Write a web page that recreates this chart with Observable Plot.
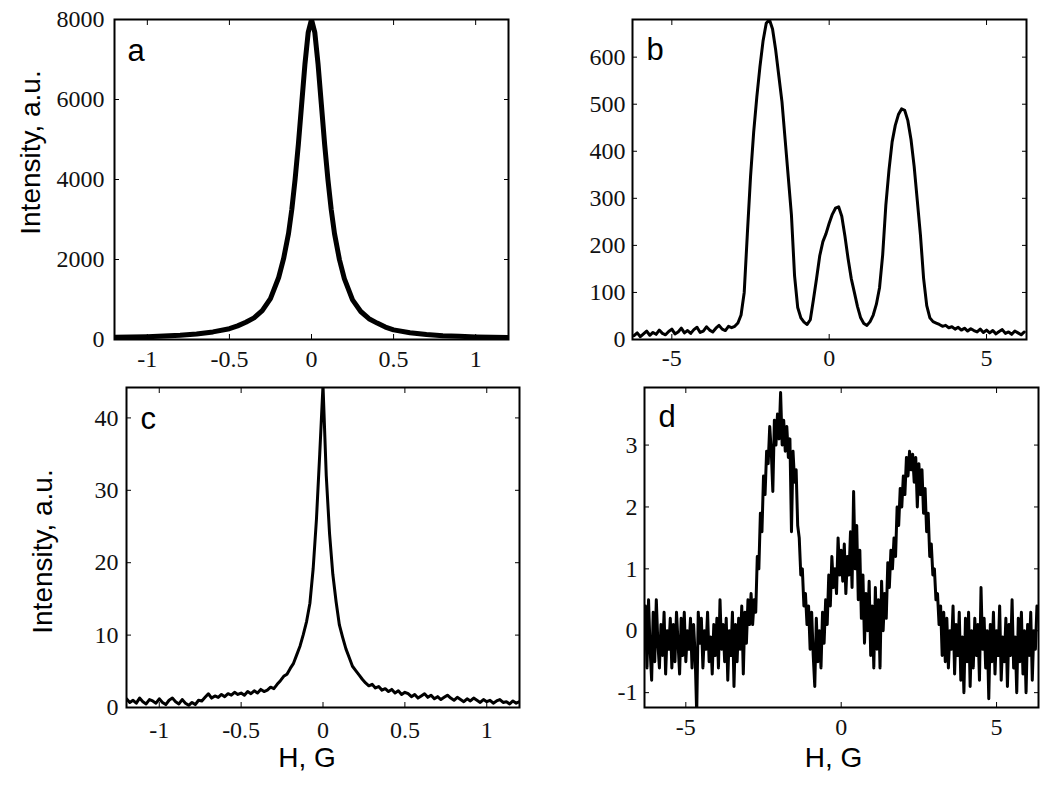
<!DOCTYPE html>
<html><head><meta charset="utf-8">
<script src="https://cdn.jsdelivr.net/npm/d3@7"></script>
<script src="https://cdn.jsdelivr.net/npm/@observablehq/plot@0.6"></script>
<style>
body{margin:0;background:#fff;}
#fig{position:relative;width:1050px;height:786px;background:#fff;overflow:hidden;}
#fig > svg{position:absolute;}
</style></head><body><div id="fig"></div>
<script>
// ---------- data ----------
// panel a: narrow line (smooth)
const xA = [-1.2,-1.1,-1.0,-0.9,-0.8,-0.7,-0.6,-0.5,-0.45,-0.4,-0.35,-0.3,-0.25,-0.2,-0.17,-0.14,-0.12,-0.1,-0.08,-0.06,-0.04,-0.02,0,0.02,0.04,0.06,0.08,0.1,0.12,0.14,0.17,0.2,0.25,0.3,0.35,0.4,0.45,0.5,0.6,0.7,0.8,0.9,1.0,1.1,1.2];
const yA = [55,60,70,85,105,140,190,270,340,430,540,720,1020,1550,2020,2650,3250,4000,4880,5880,6880,7680,8000,7680,6880,5880,4880,4000,3250,2650,2000,1520,990,700,520,410,310,240,170,125,95,80,65,55,50];

// panel b: triplet (sampling grid -6.2 .. 6.2, step 0.1)
const xBstart = -6.2, xBstep = 0.1;
const yB = [8,14,6,12,18,9,15,11,20,13,10,17,22,12,16,24,14,19,13,21,26,15,18,27,20,16,24,30,22,19,28,25,
  28,35,52,100,225,345,440,515,580,635,672,680,660,615,560,505,425,345,265,135,68,46,37,32,
  42,85,130,178,208,225,247,266,279,282,262,220,172,130,100,70,46,34,30,
  38,52,75,110,180,285,360,420,455,478,490,487,465,425,368,295,222,130,72,46,38,35,
  32,28,30,25,27,22,26,20,24,18,23,19,16,22,15,20,14,19,12,17,21,13,16,11,18,14,10,16];

// panel c: narrow line, noisy (sampling grid -1.2 .. 1.2, step 0.02)
const xCstart = -1.2, xCstep = 0.02;
const yC = [1.2,0.7,1.0,0.6,1.3,0.8,0.5,1.1,0.9,0.6,1.2,0.7,0.4,1.0,1.3,0.8,0.5,1.1,0.6,0.3,0.7,0.4,1.0,0.9,1.4,1.9,1.3,1.6,1.4,1.8,1.5,1.9,1.7,2.1,1.8,2.0,1.7,2.2,1.9,2.3,2.0,2.5,2.2,2.4,2.8,2.6,3.2,3.7,4.3,4.6,
  5.4,6.1,7.3,8.5,10.1,11.9,14.4,19.2,26,35,44.5,32,24,18.4,14.6,11.4,9.7,8.1,6.9,5.7,5.1,
  4.5,3.9,3.4,3.0,3.2,2.7,2.9,2.4,2.6,2.2,2.5,2.0,2.3,1.8,2.1,1.9,1.5,1.8,1.3,1.6,1.9,1.4,1.7,1.2,1.5,1.1,1.4,1.7,1.3,1.0,1.4,1.1,0.8,1.2,0.9,1.3,1.0,0.7,1.1,0.8,1.0,0.6,0.9,1.1,0.7,0.8,0.5,0.9,0.6,0.8];

// panel d: triplet, noisy (sampling grid -6.3 .. 6.3, step 0.05)
const xDstart = -6.3, xDstep = 0.05;
const yD = [0.4,-0.6,0.5,-0.3,-0.8,0.3,-0.5,0.5,-0.2,-0.6,0.1,-0.4,0.3,-0.7,0.0,-0.3,0.2,-0.6,0.1,-0.5,0.3,-0.2,-0.7,0.2,-0.4,0.3,-0.5,0.0,-0.3,0.2,-0.6,0.1,-0.4,-1.35,0.3,-0.2,0.2,-0.6,0.0,-0.3,0.3,-0.5,-0.1,-0.7,0.1,-0.4,0.2,-0.6,0.5,-0.3,0.1,-0.5,0.2,-0.8,0.0,-0.4,0.3,-0.9,0.1,-0.5,0.2,-0.3,0.4,-0.7,0.3,-0.2,0.5,0.1,
  0.6,0.1,0.5,0.3,1.2,1.0,1.9,1.6,2.5,2.2,2.9,2.7,3.3,2.9,2.25,3.4,3.0,3.5,3.1,3.85,3.0,3.4,2.9,3.3,2.8,3.1,1.6,2.9,2.4,2.6,1.7,1.5,0.9,1.0,0.4,0.6,0.1,0.4,-0.3,0.3,-0.4,-0.9,0.2,-0.5,
  0.0,-0.6,0.3,-0.2,0.5,0.1,0.9,0.4,1.2,0.7,1.0,0.6,1.5,0.9,1.3,0.8,1.4,0.6,1.2,0.9,1.6,0.7,2.25,1.0,1.7,0.5,1.3,0.2,0.9,-0.2,0.6,0.0,0.8,-0.4,0.4,-0.6,0.7,-0.3,0.5,-0.6,0.8,0.0,0.6,0.2,1.1,0.7,1.3,
  1.0,1.5,1.2,2.0,1.7,2.3,2.0,2.5,2.2,2.8,2.5,2.9,2.6,2.85,2.4,2.8,2.0,2.7,2.2,2.6,1.9,2.3,1.6,1.9,1.2,1.4,0.9,1.0,0.5,0.6,0.1,0.4,
  -0.4,0.3,-0.5,0.2,-0.6,0.0,-0.3,0.4,-0.7,0.1,-0.4,0.3,-0.8,-0.1,-1.0,0.2,-0.5,0.3,-0.9,0.0,-0.6,0.2,-0.4,0.1,-0.8,0.7,-0.3,0.2,-0.6,0.0,-1.1,0.1,-0.5,0.3,-0.7,0.0,-0.4,0.4,-0.8,-0.1,-0.5,0.2,-0.9,0.1,-0.4,0.5,-0.6,-0.1,-1.0,0.2,-0.5,0.3,-0.7,0.0,-1.0,0.1,-0.4,0.3,-0.8,0.0,-0.3,0.4];

// axes
const xTicksNarrow = [-1, -0.5, 0, 0.5, 1];
const xTicksWide = [-5, 0, 5];
const yTicksA = [0, 2000, 4000, 6000, 8000];
const yTicksB = [0, 100, 200, 300, 400, 500, 600];
const yTicksC = [0, 10, 20, 30, 40];
const yTicksD = [-1, 0, 1, 2, 3];
const letters = ["a", "b", "c", "d"];
const yLabel = "Intensity, a.u.";
const xLabel = "H, G";

// ---------- build tables ----------
const dataA = xA.map((x, i) => ({x, y: yA[i]}));
const grid = (y, start, step) => y.map((v, i) => ({x: +(start + i * step).toFixed(3), y: v}));
const dataB = grid(yB, xBstart, xBstep);
const dataC = grid(yC, xCstart, xCstep);
const dataD = grid(yD, xDstart, xDstep);

const SERIF = "'Liberation Serif', 'Times New Roman', serif";
const SANS = "'Liberation Sans', Arial, Helvetica, sans-serif";
const fmt = d => String(d);

function panel(o) {
  const marks = [
    Plot.line(o.data, {x: "x", y: "y", stroke: "#000", strokeWidth: o.sw, strokeLinejoin: "round", clip: true}),
    Plot.frame({stroke: "#000", strokeWidth: 2}),
    Plot.axisX(o.xTicks, {anchor: "bottom", tickSize: 0, tickPadding: o.xPad, tickFormat: fmt, label: null, fontFamily: SERIF, fontSize: 24, fill: "#111"}),
    Plot.axisX(o.xTicks, {anchor: "bottom", tickSize: -5, tickFormat: () => "", label: null}),
    Plot.axisX(o.xTicks, {anchor: "top", tickSize: -5, tickFormat: () => "", label: null}),
    Plot.axisY(o.yTicks, {anchor: "left", tickSize: 0, tickPadding: o.yPad, tickFormat: fmt, label: null, fontFamily: SERIF, fontSize: 24, fill: "#111"}),
    Plot.axisY(o.yTicks, {anchor: "left", tickSize: -5, tickFormat: () => "", label: null}),
    Plot.axisY(o.yTicks, {anchor: "right", tickSize: -5, tickFormat: () => "", label: null}),
    Plot.text([o.letter], {frameAnchor: "top-left", text: d => d, dx: o.letterDx, dy: o.letterDy, textAnchor: "start", fontFamily: SANS, fontSize: 31, fill: "#000"})
  ];
  if (o.yLab) marks.push(Plot.text([yLabel], {frameAnchor: "top-left", text: d => d, dx: o.yLab[0], dy: o.yLab[1], rotate: -90, textAnchor: "middle", fontFamily: SANS, fontSize: 28, fill: "#000"}));
  if (o.xLab) marks.push(Plot.text([xLabel], {frameAnchor: "bottom", text: d => d, dx: o.xLab[0], dy: o.xLab[1], textAnchor: "middle", fontFamily: SANS, fontSize: 28, fill: "#000"}));
  const svg = Plot.plot({
    width: o.width, height: o.height,
    marginLeft: o.ml, marginRight: o.mr, marginTop: o.mt, marginBottom: o.mb,
    style: {background: "transparent", overflow: "visible", fontFamily: SERIF},
    x: {domain: o.xDomain},
    y: {domain: o.yDomain},
    marks
  });
  svg.style.left = o.left + "px";
  svg.style.top = o.top + "px";
  document.getElementById("fig").appendChild(svg);
}

panel({data: dataA, sw: 5, xDomain: [-1.2, 1.2], yDomain: [0, 8000], xTicks: xTicksNarrow, yTicks: yTicksA,
  letter: letters[0], letterDx: 13, letterDy: 19,
  left: 0, top: 0, width: 525, height: 393, ml: 114, mr: 17, mt: 19, mb: 54, xPad: 10, yPad: 10,
  yLab: [-94, 133]});
panel({data: dataB, sw: 3, xDomain: [-6.25, 6.27], yDomain: [0, 680], xTicks: xTicksWide, yTicks: yTicksB,
  letter: letters[1], letterDx: 14, letterDy: 18,
  left: 525, top: 0, width: 525, height: 393, ml: 107, mr: 24, mt: 19, mb: 54, xPad: 9, yPad: 7});
panel({data: dataC, sw: 3, xDomain: [-1.2, 1.2], yDomain: [0, 44.2], xTicks: xTicksNarrow, yTicks: yTicksC,
  letter: letters[2], letterDx: 14, letterDy: 19,
  left: 0, top: 366, width: 525, height: 420, ml: 126, mr: 6, mt: 21, mb: 79, xPad: 13, yPad: 8,
  yLab: [-94, 164], xLab: [-16, 59]});
panel({data: dataD, sw: 3, xDomain: [-6.33, 6.35], yDomain: [-1.24, 3.93], xTicks: xTicksWide, yTicks: yTicksD,
  letter: letters[3], letterDx: 14, letterDy: 17,
  left: 525, top: 366, width: 525, height: 420, ml: 119, mr: 12, mt: 21, mb: 79, xPad: 10, yPad: 7,
  xLab: [-8, 59]});
</script></body></html>
